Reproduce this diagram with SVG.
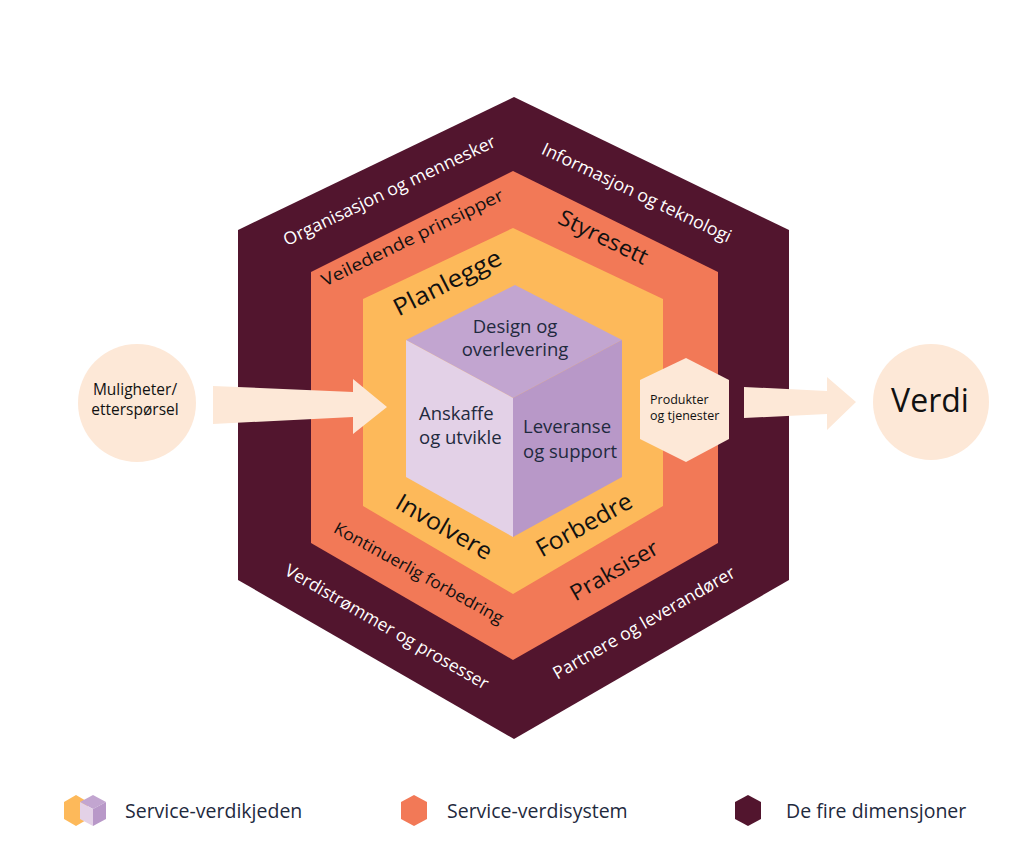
<svg xmlns="http://www.w3.org/2000/svg" width="1024" height="866" viewBox="0 0 1024 866">
<style>
text{font-family:"Open Sans","Liberation Sans",sans-serif}
.dark{fill:#52152e}
.orange{fill:#f27957}
.yellow{fill:#fdb95a}
.cream{fill:#fde8d7}
.ctop{fill:#c2a5d0}
.cleft{fill:#e3d1e7}
.cright{fill:#b898c8}
.wl{fill:#ffffff;font-size:17.5px}
.bl{fill:#111111}
.nv{fill:#1f2a3e}
</style>
<rect width="1024" height="866" fill="#ffffff"/>

<g id="dimensions">
<polygon class="dark" points="514,97 789,230 789,580 514,739 238,580 238,230"/>
<text class="wl" x="392" y="196" text-anchor="middle" textLength="233" lengthAdjust="spacingAndGlyphs" transform="rotate(-25.5 392 196)">Organisasjon og mennesker</text>
<text class="wl" x="634" y="198" text-anchor="middle" textLength="208" lengthAdjust="spacingAndGlyphs" transform="rotate(25.5 634 198)">Informasjon og teknologi</text>
<text class="wl" x="384" y="632" text-anchor="middle" textLength="232" lengthAdjust="spacingAndGlyphs" transform="rotate(30 384 632)">Verdistrømmer og prosesser</text>
<text class="wl" x="647" y="628" text-anchor="middle" textLength="207" lengthAdjust="spacingAndGlyphs" transform="rotate(-30 647 628)">Partnere og leverandører</text>
</g>

<g id="value-system">
<polygon class="orange" points="513,171 718,272 718,543 513,660 311,543 311,272"/>
<text class="bl" x="415" y="243" font-size="17" text-anchor="middle" textLength="200" lengthAdjust="spacingAndGlyphs" transform="rotate(-26 415 243)">Veiledende prinsipper</text>
<text class="bl" x="600" y="244" font-size="22" text-anchor="middle" textLength="97" lengthAdjust="spacingAndGlyphs" transform="rotate(26 600 244)">Styresett</text>
<text class="bl" x="416" y="578" font-size="16.5" text-anchor="middle" textLength="191" lengthAdjust="spacingAndGlyphs" transform="rotate(29 416 578)">Kontinuerlig forbedring</text>
<text class="bl" x="618" y="577" font-size="22" text-anchor="middle" textLength="98" lengthAdjust="spacingAndGlyphs" transform="rotate(-30 618 577)">Praksiser</text>
</g>

<g id="value-chain">
<polygon class="yellow" points="513,228 663,299 663,506 513,594 363,506 363,299"/>
<text class="bl" x="451" y="290" font-size="24" text-anchor="middle" textLength="118" lengthAdjust="spacingAndGlyphs" transform="rotate(-27 451 290)">Planlegge</text>
<text class="bl" x="440" y="534" font-size="24" text-anchor="middle" textLength="107" lengthAdjust="spacingAndGlyphs" transform="rotate(30 440 534)">Involvere</text>
<text class="bl" x="588" y="532" font-size="24" text-anchor="middle" textLength="106" lengthAdjust="spacingAndGlyphs" transform="rotate(-29 588 532)">Forbedre</text>
</g>

<g id="cube">
<polygon class="ctop" points="515,285 622,340 513,398 406,340"/>
<polygon class="cleft" points="406,340 513,398 513,537 406,477"/>
<polygon class="cright" points="513,398 622,340 622,477 513,537"/>
<text class="nv" x="515" y="333" font-size="18.5" text-anchor="middle">Design og</text>
<text class="nv" x="515" y="356" font-size="18.5" text-anchor="middle">overlevering</text>
<text class="nv" x="419" y="420" font-size="18.5">Anskaffe</text>
<text class="nv" x="419" y="444" font-size="18.5">og utvikle</text>
<text class="nv" x="523" y="433" font-size="18.5">Leveranse</text>
<text class="nv" x="523" y="458" font-size="18.5">og support</text>
</g>

<g id="input">
<circle class="cream" cx="137" cy="403" r="59"/>
<text class="bl" x="135" y="395" font-size="15.5" text-anchor="middle">Muligheter/</text>
<text class="bl" x="135" y="415" font-size="15.5" text-anchor="middle">etterspørsel</text>
</g>

<g id="output">
<polygon class="cream" points="686,358 729,380 729,439 686,462 640,439 640,380"/>
<text class="bl" x="650" y="404" font-size="12.5">Produkter</text>
<text class="bl" x="650" y="420" font-size="12.5">og tjenester</text>
</g>

<g id="value">
<circle class="cream" cx="931" cy="402" r="58"/>
<text class="bl" x="930" y="412" font-size="32" text-anchor="middle">Verdi</text>
</g>

<g id="connectors">
<polygon class="cream" points="213,386 353,392 353,379 387,407 353,434 353,417 213,424"/>
<polygon class="cream" points="744,387 827,391 827,377 856,402 827,430 827,414 744,418"/>
</g>

<g id="legend">
<polygon class="yellow" points="76,795 88,802 88,819 76,826 64,819 64,802"/>
<polygon class="ctop" points="93,795 106,802 93,809 80,802"/>
<polygon class="cleft" points="80,802 93,809 93,826 80,819"/>
<polygon class="cright" points="93,809 106,802 106,819 93,826"/>
<text class="nv" x="125" y="818" font-size="19.5">Service-verdikjeden</text>
<polygon class="orange" points="414,795 427,802 427,819 414,826 401,819 401,802"/>
<text class="nv" x="447" y="818" font-size="19.5">Service-verdisystem</text>
<polygon class="dark" points="748,795 761,802 761,819 748,826 735,819 735,802"/>
<text class="nv" x="786" y="818" font-size="19.5">De fire dimensjoner</text>
</g>
</svg>
